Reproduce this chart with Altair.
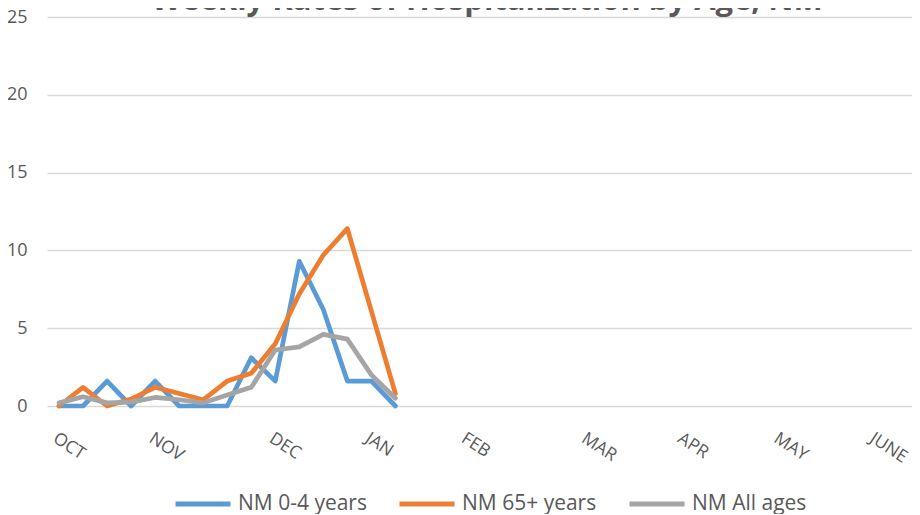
import altair as alt
import pandas as pd

# ---- data ----
weeks = list(range(15))
nm_0_4 = [0, 0, 1.6, 0, 1.6, 0, 0, 0, 3.1, 1.6, 9.3, 6.2, 1.6, 1.6, 0]
nm_65 = [0, 1.2, 0, 0.45, 1.2, 0.8, 0.4, 1.6, 2.1, 4.0, 7.2, 9.7, 11.4, 6.1, 0.8]
nm_all = [0.2, 0.6, 0.2, 0.25, 0.55, 0.4, 0.2, 0.7, 1.2, 3.6, 3.8, 4.6, 4.3, 2.0, 0.5]
series_names = ["NM 0-4 years", "NM 65+ years", "NM All ages"]
series_colors = ["#5B9BD5", "#ED7D31", "#A5A5A5"]
month_labels = ["OCT", "NOV", "DEC", "JAN", "FEB", "MAR", "APR", "MAY", "JUNE"]
month_weeks = [0, 4, 9, 13, 17, 22, 26, 30, 34]
n_weeks = 36
y_ticks = [0, 5, 10, 15, 20, 25]
title_text = "Weekly Rates of Hospitalization by Age, NM"

rows = []
for name, vals in zip(series_names, [nm_0_4, nm_65, nm_all]):
    for w, v in zip(weeks, vals):
        rows.append({"week": w, "rate": v, "series": name})
df = pd.DataFrame(rows)

label_expr = ""
for w, m in zip(month_weeks, month_labels):
    label_expr += f"datum.value == {w} ? '{m}' : "
label_expr += "''"

FONT = "Open Sans"
GREY = "#595959"

lines = alt.Chart(df).mark_line(
    strokeWidth=4.7, strokeCap="round", strokeJoin="round"
).encode(
    x=alt.X(
        "week:Q",
        scale=alt.Scale(domain=[-0.5, n_weeks - 0.5], nice=False, zero=False),
        axis=alt.Axis(
            values=month_weeks,
            labelExpr=label_expr,
            title=None,
            grid=False,
            ticks=False,
            domain=False,
            labelAngle=33,
            labelAlign="left",
            labelBaseline="top",
            labelPadding=23,
            labelFont=FONT,
            labelFontSize=17.5,
            labelColor=GREY,
            labelOverlap=False,
        ),
    ),
    y=alt.Y(
        "rate:Q",
        scale=alt.Scale(domain=[0, 25], nice=False),
        axis=alt.Axis(
            values=y_ticks,
            title=None,
            grid=True,
            gridColor="#D9D9D9",
            gridWidth=1.3,
            ticks=False,
            domain=False,
            labelPadding=20,
            labelFont=FONT,
            labelFontSize=18,
            labelColor=GREY,
        ),
    ),
    color=alt.Color(
        "series:N",
        scale=alt.Scale(domain=series_names, range=series_colors),
        sort=series_names,
        legend=alt.Legend(
            title=None,
            orient="none",
            direction="horizontal",
            legendX=126,
            legendY=457,
            symbolType="stroke",
            symbolSize=3025,
            symbolStrokeWidth=5,
            labelOffset=5,
            columnPadding=22,
            labelFont=FONT,
            labelFontSize=21,
            labelColor=GREY,
        ),
    ),
    order=alt.Order("week:Q"),
)

title = alt.Chart(pd.DataFrame({"t": [title_text]})).mark_text(
    font=FONT, fontSize=31, fontWeight="bold", color=GREY,
    align="center", baseline="alphabetic",
).encode(
    text="t:N",
    x=alt.value(440),
    y=alt.value(-7),
)

chart = alt.layer(lines, title).properties(
    width=865,
    height=389,
    padding={"left": 39, "top": 9, "right": 0, "bottom": 108},
    autosize=alt.AutoSizeParams(type="none"),
    background="white",
).configure_view(stroke=None)

chart.save("out.html", embed_options={"renderer": "svg", "actions": False})
